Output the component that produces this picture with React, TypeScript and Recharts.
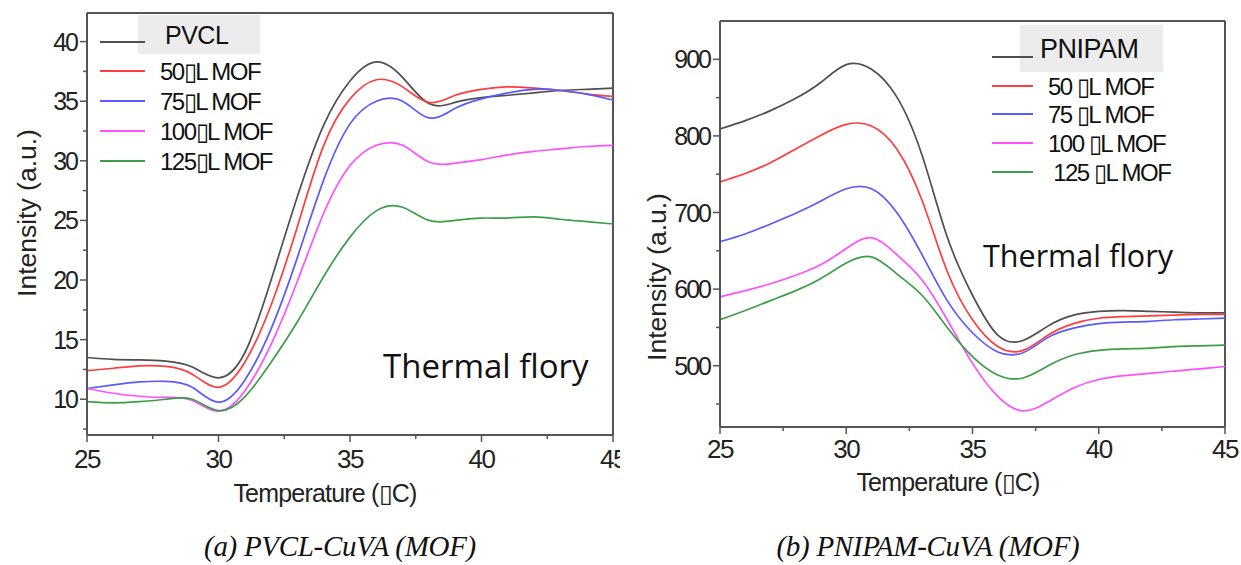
import { LineChart, Line, XAxis, YAxis, Legend, ReferenceLine } from 'recharts';

// shared x ticks
const X_TICKS = [25, 27.5, 30, 32.5, 35, 37.5, 40, 42.5, 45];
const X_MAJORS = [25, 30, 35, 40, 45];
const COLORS = ['#4f4f4f', '#ff3d3d', '#5a5aff', '#ff50ff', '#3d9e4a'];
const TEMPS = [25, 26, 27, 28, 29, 30, 31, 32, 33, 34, 35, 36, 37, 38, 39, 40, 41, 42, 43, 44, 45];

// (a) PVCL
const PVCL_NAMES = ['PVCL', '50\u25AFL MOF', '75\u25AFL MOF', '100\u25AFL MOF', '125\u25AFL MOF'];
const PVCL_0 = [13.5, 13.35, 13.3, 13.2, 12.7, 11.8, 13.9, 20.0, 27.0, 33.0, 36.7, 38.3, 37.0, 34.8, 34.9, 35.3, 35.5, 35.7, 35.9, 36.0, 36.1];
const PVCL_50 = [12.4, 12.6, 12.8, 12.75, 12.1, 11.0, 13.1, 17.9, 24.5, 31.3, 35.2, 36.8, 36.2, 34.9, 35.5, 36.0, 36.2, 36.1, 35.9, 35.6, 35.4];
const PVCL_75 = [10.9, 11.2, 11.45, 11.5, 11.0, 9.75, 11.6, 15.9, 21.9, 28.4, 33.1, 35.0, 35.0, 33.6, 34.4, 35.2, 35.7, 36.0, 35.9, 35.6, 35.1];
const PVCL_100 = [10.9, 10.5, 10.25, 10.15, 9.9, 9.0, 10.7, 14.6, 19.9, 25.6, 29.6, 31.3, 31.3, 29.9, 29.8, 30.1, 30.5, 30.8, 31.0, 31.2, 31.3];
const PVCL_125 = [9.8, 9.7, 9.8, 10.0, 10.0, 9.05, 10.2, 13.1, 16.5, 20.3, 23.6, 25.8, 26.1, 25.0, 25.0, 25.2, 25.2, 25.3, 25.1, 24.9, 24.7];
const PVCL_Y_TICKS = [7.5, 10, 12.5, 15, 17.5, 20, 22.5, 25, 27.5, 30, 32.5, 35, 37.5, 40];
const PVCL_Y_MAJORS = [10, 15, 20, 25, 30, 35, 40];

// (b) PNIPAM
const PNIPAM_NAMES = ['PNIPAM', '50 \u25AFL MOF', '75 \u25AFL MOF', '100 \u25AFL MOF', ' 125 \u25AFL MOF'];
const PNIPAM_0 = [809, 820, 833, 849, 870, 893, 887, 851, 775, 668, 592, 540, 533, 552, 566, 571, 572, 571, 570, 569, 569];
const PNIPAM_50 = [740, 751, 765, 783, 801, 815, 813, 783, 716, 623, 560, 525, 520, 540, 555, 562, 564, 565, 566, 567, 567];
const PNIPAM_75 = [662, 672, 685, 699, 715, 731, 731, 700, 645, 585, 543, 518, 517, 537, 549, 555, 557, 558, 560, 561, 562];
const PNIPAM_100 = [590, 598, 607, 618, 632, 653, 667, 645, 612, 560, 503, 460, 441, 453, 471, 482, 487, 490, 493, 496, 499];
const PNIPAM_125 = [560, 572, 585, 598, 614, 634, 642, 620, 592, 550, 512, 488, 484, 500, 514, 520, 522, 523, 525, 526, 527];
const PNIPAM_Y_TICKS = [450, 500, 550, 600, 650, 700, 750, 800, 850, 900];
const PNIPAM_Y_MAJORS = [500, 600, 700, 800, 900];

const AXIS = '#555';
const SANS = '"Liberation Sans", Arial, sans-serif';
const X_TITLE = 'Temperature (\u25AFC)';
const Y_TITLE = 'Intensity (a.u.)';

function buildRows(temps: number[], series: number[][]) {
  return temps.map((t, i) => {
    const row: Record<string, number> = { t };
    series.forEach((s, k) => (row['s' + k] = s[i]));
    return row;
  });
}

interface PanelProps {
  left: number;
  width: number;
  margin: { top: number; right: number; bottom: number; left: number };
  yWidth: number;
  rows: Record<string, number>[];
  names: string[];
  yDomain: [number, number];
  yTicks: number[];
  yMajors: number[];
  yTickFont: number;
  xTickFont: number;
  xTickBase: number;
  yLabelPos: [number, number];
  xLabelPos: [number, number];
  legend: {
    left: number;
    top: number;
    rowY: number[];
    lineX: [number, number];
    textX: number;
    box: [number, number, number, number];
    titleX: number;
    titleY: number;
    font: number;
    titleFont: number;
  };
}

function Panel(p: PanelProps) {
  const xTick = (props: any) => {
    const { x, y, payload } = props;
    const major = X_MAJORS.includes(payload.value);
    const len = major ? 7 : 4;
    return (
      <g>
        <line x1={x} y1={y} x2={x} y2={y + len} stroke={AXIS} strokeWidth={1.5} />
        {major && (
          <text x={x} y={y + p.xTickBase} textAnchor="middle" fontSize={p.xTickFont} letterSpacing={-1.5}
            fill="#222" fontFamily={SANS}>{payload.value}</text>
        )}
      </g>
    );
  };
  const yTick = (props: any) => {
    const { x, y, payload } = props;
    const major = p.yMajors.includes(payload.value);
    const len = major ? 7 : 4;
    return (
      <g>
        <line x1={x} y1={y} x2={x - len} y2={y} stroke={AXIS} strokeWidth={1.5} />
        {major && (
          <text x={x - 10} y={y} textAnchor="end" dominantBaseline="central" fontSize={p.yTickFont}
            letterSpacing={-2} fill="#222" fontFamily={SANS}>{payload.value}</text>
        )}
      </g>
    );
  };
  const lg = p.legend;
  const legendContent = (props: any) => {
    const payload = [...(props.payload || [])].sort((a: any, b: any) =>
      String(a.dataKey).localeCompare(String(b.dataKey)),
    );
    return (
      <svg width={200} height={175} style={{ display: 'block' }}>
        <rect x={lg.box[0]} y={lg.box[1]} width={lg.box[2]} height={lg.box[3]} fill="#ececec" />
        {payload.map((item: any, i: number) => (
          <g key={i}>
            <line x1={lg.lineX[0]} x2={lg.lineX[1]} y1={lg.rowY[i]} y2={lg.rowY[i]} stroke={item.color} strokeWidth={2} />
            <text
              x={i === 0 ? lg.titleX : lg.textX}
              y={i === 0 ? lg.titleY : lg.rowY[i]}
              dominantBaseline="central"
              fontSize={i === 0 ? lg.titleFont : lg.font}
              letterSpacing={i === 0 ? -0.5 : -1.5}
              fill="#111"
              fontFamily={SANS}
              style={{ whiteSpace: 'pre' }}
            >
              {item.value}
            </text>
          </g>
        ))}
      </svg>
    );
  };

  return (
    <div style={{ position: 'absolute', left: p.left, top: 0 }}>
      <LineChart width={p.width} height={510} data={p.rows} margin={p.margin}>
        <XAxis
          dataKey="t"
          type="number"
          domain={[25, 45]}
          ticks={X_TICKS}
          interval={0}
          allowDataOverflow
          height={70}
          stroke={AXIS}
          strokeWidth={2}
          tickLine={false}
          tickSize={0}
          tickMargin={0}
          tick={xTick}
          label={() => (
            <text x={p.xLabelPos[0]} y={p.xLabelPos[1]} textAnchor="middle" dominantBaseline="central"
              fontSize={25} letterSpacing={-0.8} fill="#222" fontFamily={SANS}>
              {X_TITLE}
            </text>
          )}
        />
        <YAxis
          type="number"
          domain={p.yDomain}
          ticks={p.yTicks}
          interval={0}
          allowDataOverflow
          width={p.yWidth}
          stroke={AXIS}
          strokeWidth={2}
          tickLine={false}
          tickSize={0}
          tickMargin={0}
          tick={yTick}
          label={() => (
            <text transform={`translate(${p.yLabelPos[0]},${p.yLabelPos[1]}) rotate(-90)`} textAnchor="middle"
              dominantBaseline="central" fontSize={26.5} letterSpacing={0} fill="#222" fontFamily={SANS}>
              {Y_TITLE}
            </text>
          )}
        />
        <ReferenceLine y={p.yDomain[1]} stroke={AXIS} strokeWidth={2} />
        <ReferenceLine x={45} stroke={AXIS} strokeWidth={2} />
        <Legend
          layout="vertical"
          align="center"
          verticalAlign="middle"
          wrapperStyle={{ left: lg.left, top: lg.top, width: 200, height: 175 }}
          content={legendContent}
        />
        {p.names.map((name, k) => (
          <Line
            key={name}
            type="natural"
            dataKey={'s' + k}
            name={name}
            stroke={COLORS[k]}
            strokeWidth={1.7}
            dot={false}
            isAnimationActive={false}
          />
        ))}
      </LineChart>
    </div>
  );
}

export default function App() {
  const pvclRows = buildRows(TEMPS, [PVCL_0, PVCL_50, PVCL_75, PVCL_100, PVCL_125]);
  const pnipamRows = buildRows(TEMPS, [PNIPAM_0, PNIPAM_50, PNIPAM_75, PNIPAM_100, PNIPAM_125]);
  return (
    <div style={{ position: 'absolute', left: 0, top: 0, width: 1241, height: 565, background: '#fff', overflow: 'hidden' }}>
      <Panel
        left={0}
        width={620}
        margin={{ top: 13, right: 7, bottom: 5, left: 0 }}
        yWidth={87}
        rows={pvclRows}
        names={PVCL_NAMES}
        yDomain={[7, 42.4]}
        yTicks={PVCL_Y_TICKS}
        yMajors={PVCL_Y_MAJORS}
        yTickFont={25}
        xTickFont={26}
        xTickBase={33}
        yLabelPos={[27, 213]}
        xLabelPos={[325, 493]}
        legend={{
          left: 95, top: 12, rowY: [30, 59, 89, 119, 149], lineX: [5, 50], textX: 65,
          box: [43, 3, 122, 39], titleX: 70, titleY: 23, font: 24, titleFont: 25,
        }}
      />
      <Panel
        left={630}
        width={611}
        margin={{ top: 21, right: 16, bottom: 13, left: 0 }}
        yWidth={90}
        rows={pnipamRows}
        names={PNIPAM_NAMES}
        yDomain={[420, 950]}
        yTicks={PNIPAM_Y_TICKS}
        yMajors={PNIPAM_Y_MAJORS}
        yTickFont={25}
        xTickFont={26}
        xTickBase={31}
        yLabelPos={[27, 277]}
        xLabelPos={[318, 482]}
        legend={{
          left: 355, top: 20, rowY: [37, 66, 94, 123, 152], lineX: [7, 48], textX: 63,
          box: [35, 5, 143, 47], titleX: 55, titleY: 29, font: 24, titleFont: 27,
        }}
      />
      <div style={{ position: 'absolute', left: 383, top: 343, fontFamily: '"Open Sans", sans-serif', fontSize: 33, color: '#111', whiteSpace: 'nowrap' }}>
        Thermal flory
      </div>
      <div style={{ position: 'absolute', left: 983, top: 234, fontFamily: '"Open Sans", sans-serif', fontSize: 30.5, color: '#111', whiteSpace: 'nowrap' }}>
        Thermal flory
      </div>
      <div style={{ position: 'absolute', left: 140, width: 400, top: 530, textAlign: 'center', fontFamily: '"Liberation Serif", serif', fontStyle: 'italic', fontSize: 29, letterSpacing: -0.3, color: '#111', whiteSpace: 'nowrap' }}>
        (a) PVCL-CuVA (MOF)
      </div>
      <div style={{ position: 'absolute', left: 728, width: 400, top: 530, textAlign: 'center', fontFamily: '"Liberation Serif", serif', fontStyle: 'italic', fontSize: 29, letterSpacing: -0.3, color: '#111', whiteSpace: 'nowrap' }}>
        (b) PNIPAM-CuVA (MOF)
      </div>
    </div>
  );
}
